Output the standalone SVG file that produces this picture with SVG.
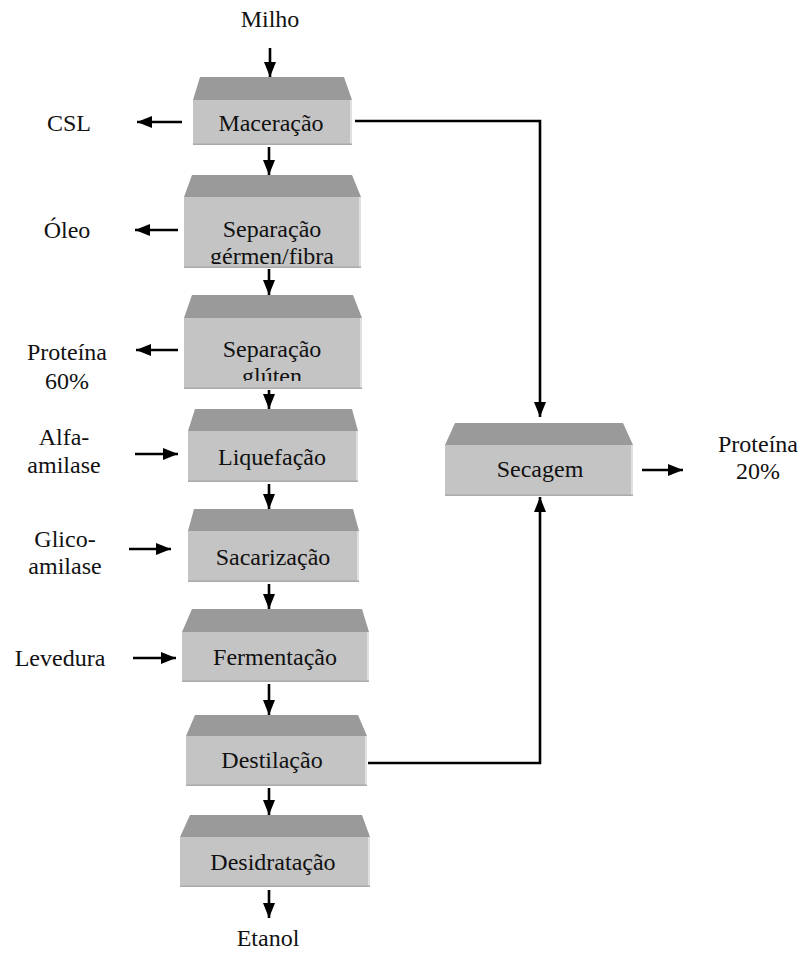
<svg xmlns="http://www.w3.org/2000/svg" width="806" height="955" viewBox="0 0 806 955" font-family="'Liberation Serif', 'Times New Roman', Times, 'DejaVu Serif', serif">
  <style>
    text { font-family: "Liberation Serif", "Times New Roman", Times, "DejaVu Serif", serif; font-size: 24px; fill: #111; text-anchor: middle; }
    .top { fill: #9a9a9a; }
    .face { fill: #c4c4c4; }
    .edge { fill: #e0e0e0; }
    .base { fill: #aaaaaa; }
    .arrow { stroke: #000; stroke-width: 2.6; fill: none; marker-end: url(#head); }
  </style>
  <defs>
    <marker id="head" markerUnits="userSpaceOnUse" markerWidth="15" markerHeight="12" refX="15" refY="6" orient="auto">
      <path d="M0,0 L15,6 L0,12 Z" fill="#000"/>
    </marker>
    <clipPath id="clipGermen"><rect x="184" y="197" width="177" height="67"/></clipPath>
    <clipPath id="clipGluten"><rect x="184" y="318" width="178" height="63"/></clipPath>
  </defs>
  <rect width="806" height="955" fill="#fff"/>

  <!-- process blocks: bevelled top + face -->
  <g id="maceracao">
    <polygon class="top" points="200,77 344,77 352,100 193,100"/>
    <rect class="face" x="193" y="100" width="159" height="45"/>
    <rect class="edge" x="350" y="100" width="2" height="45"/>
    <rect class="base" x="193" y="143.5" width="159" height="1.5"/>
    <text x="271" y="131">Maceração</text>
  </g>
  <g id="separacao-germen">
    <polygon class="top" points="192,175 352,175 361,197 184,197"/>
    <rect class="face" x="184" y="197" width="177" height="71"/>
    <rect class="edge" x="359" y="197" width="2" height="71"/>
    <rect class="base" x="184" y="266.5" width="177" height="1.5"/>
    <g clip-path="url(#clipGermen)">
      <text x="272" y="237">Separação</text>
      <text x="272" y="264">gérmen/fibra</text>
    </g>
  </g>
  <g id="separacao-gluten">
    <polygon class="top" points="192,295 353,295 362,318 184,318"/>
    <rect class="face" x="184" y="318" width="178" height="71"/>
    <rect class="edge" x="360" y="318" width="2" height="71"/>
    <rect class="base" x="184" y="387.5" width="178" height="1.5"/>
    <g clip-path="url(#clipGluten)">
      <text x="272" y="357">Separação</text>
      <text x="272" y="384">glúten</text>
    </g>
  </g>
  <g id="liquefacao">
    <polygon class="top" points="195,409 352,409 358,431 188,431"/>
    <rect class="face" x="188" y="431" width="170" height="51"/>
    <rect class="edge" x="356" y="431" width="2" height="51"/>
    <rect class="base" x="188" y="480.5" width="170" height="1.5"/>
    <text x="272" y="465">Liquefação</text>
  </g>
  <g id="sacarizacao">
    <polygon class="top" points="194,509 353,509 359,531 188,531"/>
    <rect class="face" x="188" y="531" width="171" height="51"/>
    <rect class="edge" x="357" y="531" width="2" height="51"/>
    <rect class="base" x="188" y="580.5" width="171" height="1.5"/>
    <text x="273" y="565">Sacarização</text>
  </g>
  <g id="fermentacao">
    <polygon class="top" points="192,609 362,609 369,632 182,632"/>
    <rect class="face" x="182" y="632" width="187" height="50"/>
    <rect class="edge" x="367" y="632" width="2" height="50"/>
    <rect class="base" x="182" y="680.5" width="187" height="1.5"/>
    <text x="275" y="665">Fermentação</text>
  </g>
  <g id="destilacao">
    <polygon class="top" points="195,715 358,715 367,736 186,736"/>
    <rect class="face" x="186" y="736" width="181" height="50"/>
    <rect class="edge" x="365" y="736" width="2" height="50"/>
    <rect class="base" x="186" y="784.5" width="181" height="1.5"/>
    <text x="272" y="768">Destilação</text>
  </g>
  <g id="desidratacao">
    <polygon class="top" points="190,815 362,815 370,837 180,837"/>
    <rect class="face" x="180" y="837" width="190" height="50"/>
    <rect class="edge" x="368" y="837" width="2" height="50"/>
    <rect class="base" x="180" y="885.5" width="190" height="1.5"/>
    <text x="273" y="870">Desidratação</text>
  </g>
  <g id="secagem">
    <polygon class="top" points="455,423 623,423 633,445 445,445"/>
    <rect class="face" x="445" y="445" width="188" height="51"/>
    <rect class="edge" x="631" y="445" width="2" height="51"/>
    <rect class="base" x="445" y="494.5" width="188" height="1.5"/>
    <text x="540" y="477">Secagem</text>
  </g>

  <!-- inputs and outputs -->
  <g id="labels">
    <text x="270" y="27">Milho</text>
    <text x="69" y="131">CSL</text>
    <text x="67" y="238">Óleo</text>
    <text x="67" y="360">Proteína</text>
    <text x="67" y="389">60%</text>
    <text x="64" y="445">Alfa-</text>
    <text x="64" y="473">amilase</text>
    <text x="65" y="547">Glico-</text>
    <text x="65" y="574">amilase</text>
    <text x="60" y="666">Levedura</text>
    <text x="268" y="946">Etanol</text>
    <text x="758" y="452">Proteína</text>
    <text x="758" y="479">20%</text>
  </g>

  <!-- connectors -->
  <g id="connectors">
    <line class="arrow" x1="270" y1="48" x2="270" y2="77"/>
    <line class="arrow" x1="269" y1="147" x2="269" y2="175"/>
    <line class="arrow" x1="269" y1="269" x2="269" y2="295"/>
    <line class="arrow" x1="269" y1="390" x2="269" y2="409"/>
    <line class="arrow" x1="269" y1="484" x2="269" y2="509"/>
    <line class="arrow" x1="269" y1="584" x2="269" y2="609"/>
    <line class="arrow" x1="269" y1="684" x2="269" y2="715"/>
    <line class="arrow" x1="269" y1="788" x2="269" y2="815"/>
    <line class="arrow" x1="269" y1="890" x2="269" y2="918"/>

    <line class="arrow" x1="182" y1="122" x2="137" y2="122"/>
    <line class="arrow" x1="178" y1="230" x2="135" y2="230"/>
    <line class="arrow" x1="178" y1="350" x2="136" y2="350"/>
    <line class="arrow" x1="135" y1="454" x2="178" y2="454"/>
    <line class="arrow" x1="129" y1="549" x2="171" y2="549"/>
    <line class="arrow" x1="133" y1="658" x2="176" y2="658"/>

    <polyline class="arrow" points="355,121 540,121 540,417"/>
    <polyline class="arrow" points="368,763 540,763 540,497"/>
    <line class="arrow" x1="642" y1="470" x2="683" y2="470"/>
  </g>
</svg>
